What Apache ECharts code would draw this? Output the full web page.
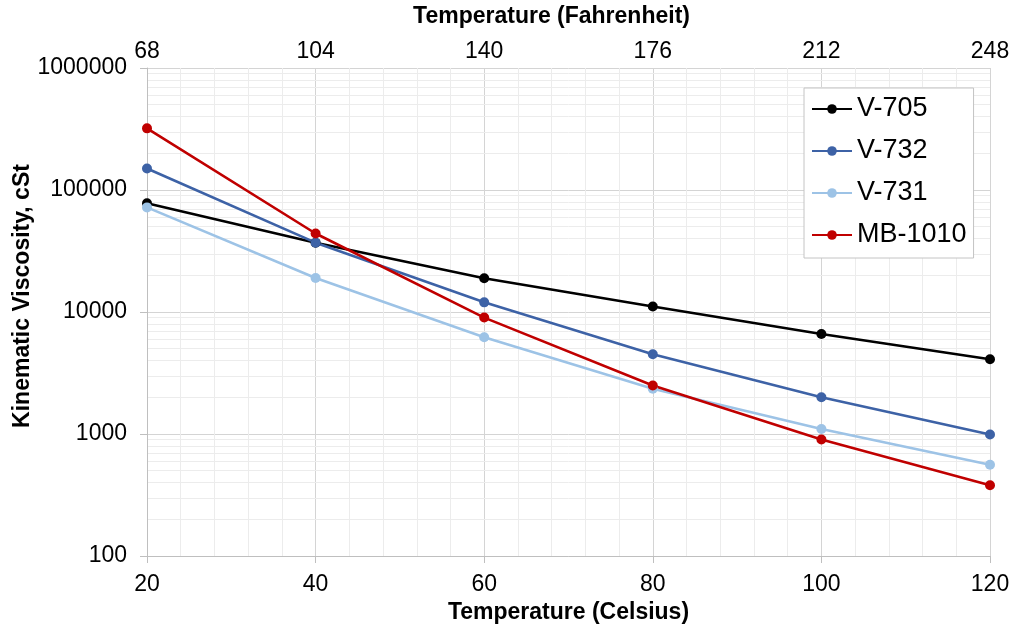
<!DOCTYPE html>
<html>
<head>
<meta charset="utf-8">
<script src="https://cdn.jsdelivr.net/npm/echarts@6/dist/echarts.min.js"></script>
<style>
html,body{margin:0;padding:0;background:#fff;}
#chart{width:1013px;height:627px;}
</style>
</head>
<body>
<div id="chart"></div>
<script>
// Temperatures (Celsius) at which viscosity was measured
var celsius = [20, 40, 60, 80, 100, 120];
// Top-axis tick labels (Fahrenheit equivalents)
var fahrenheitLabels = [68, 104, 140, 176, 212, 248];
// Kinematic viscosity, cSt
var v705   = [78000, 37000, 18900, 11100, 6600, 4100];
var v732   = [150000, 37000, 12000, 4500, 2000, 990];
var v731   = [72000, 19000, 6200, 2350, 1100, 560];
var mb1010 = [320000, 44000, 9000, 2500, 900, 380];
var seriesNames = ['V-705', 'V-732', 'V-731', 'MB-1010'];
var yTicks = [100, 1000, 10000, 100000, 1000000];

var colors = ['#000000', '#3d62a6', '#9dc3e6', '#c00000'];
var font = '"Liberation Sans", Arial, sans-serif';

function pairs(vals) {
  return celsius.map(function (c, i) { return [c, vals[i]]; });
}

// minor log gridlines at 2..9 x each decade
var minorGrid = [];
for (var d = 0; d < yTicks.length - 1; d++) {
  for (var m = 2; m <= 9; m++) minorGrid.push({ yAxis: yTicks[d] * m });
}

var allVals = [v705, v732, v731, mb1010];
var series = allVals.map(function (vals, i) {
  return {
    name: seriesNames[i],
    type: 'line',
    data: pairs(vals),
    xAxisIndex: 0,
    yAxisIndex: 0,
    symbol: 'circle',
    symbolSize: 10,
    z: 3,
    lineStyle: { width: 2.6, color: colors[i] },
    itemStyle: { color: colors[i] },
    emphasis: { disabled: true },
    animation: false
  };
});
series.unshift({
  name: '_grid',
  type: 'line',
  data: [],
  z: 0,
  silent: true,
  animation: false,
  markLine: {
    z: 0,
    silent: true,
    symbol: ['none', 'none'],
    label: { show: false },
    lineStyle: { color: '#ececec', width: 1, type: 'solid' },
    emphasis: { disabled: true },
    data: minorGrid,
    animation: false
  }
});

var chart = echarts.init(document.getElementById('chart'), null, { renderer: 'canvas' });
chart.setOption({
  animation: false,
  backgroundColor: '#ffffff',
  textStyle: { fontFamily: font },
  grid: { left: 147, right: 23, top: 68, bottom: 71, containLabel: false, outerBoundsMode: 'none' },
  legend: {
    data: seriesNames,
    orient: 'vertical',
    left: 804,
    top: 88,
    z: 10,
    padding: [7, 7, 9, 7],
    itemGap: 14,
    itemWidth: 40,
    itemHeight: 12,
    backgroundColor: '#ffffff',
    borderColor: '#c4c4c4',
    borderWidth: 1,
    borderRadius: 0,
    textStyle: { fontFamily: font, fontSize: 27, color: '#000', lineHeight: 28 }
  },
  xAxis: [
    {
      type: 'value',
      position: 'bottom',
      min: 20, max: 120, interval: 20,
      name: 'Temperature (Celsius)',
      nameLocation: 'middle',
      nameGap: 45,
      nameMoveOverlap: false,
      nameTextStyle: { fontFamily: font, fontSize: 23, fontWeight: 'bold', color: '#000' },
      axisLine: { show: true, lineStyle: { color: '#bfbfbf', width: 1 } },
      axisTick: { show: true, length: 7, lineStyle: { color: '#bfbfbf' } },
      axisLabel: { margin: 17, fontSize: 23, color: '#000', fontFamily: font },
      splitLine: { show: true, lineStyle: { color: '#d4d4d4', width: 1 } },
      minorTick: { show: false, splitNumber: 5 },
      minorSplitLine: { show: true, lineStyle: { color: '#ececec', width: 1 } }
    },
    {
      type: 'value',
      position: 'top',
      min: 20, max: 120, interval: 20,
      name: 'Temperature (Fahrenheit)',
      nameLocation: 'middle',
      nameGap: 40,
      nameMoveOverlap: false,
      nameTextStyle: { fontFamily: font, fontSize: 23, fontWeight: 'bold', color: '#000', padding: [0, 34, 0, 0] },
      axisLine: { show: false },
      axisTick: { show: false },
      axisLabel: {
        margin: 5, fontSize: 23, color: '#000', fontFamily: font,
        formatter: function (v) { return String(fahrenheitLabels[Math.round((v - 20) / 20)]); }
      },
      splitLine: { show: false }
    }
  ],
  yAxis: {
    type: 'log',
    logBase: 10,
    min: 100, max: 1000000,
    name: 'Kinematic Viscosity, cSt',
    nameLocation: 'middle',
    nameGap: 113,
    nameMoveOverlap: false,
    nameTextStyle: { fontFamily: font, fontSize: 23, fontWeight: 'bold', color: '#000', padding: [0, 0, 0, 32] },
    axisLine: { show: true, lineStyle: { color: '#bfbfbf', width: 1 } },
    axisTick: { show: true, length: 7, lineStyle: { color: '#bfbfbf' } },
    axisLabel: {
      margin: 20, fontSize: 23, color: '#000', fontFamily: font,
      formatter: function (v) { return String(Math.round(v)); }
    },
    splitLine: { show: true, lineStyle: { color: '#d4d4d4', width: 1 } }
  },
  series: series
});
</script>
</body>
</html>
